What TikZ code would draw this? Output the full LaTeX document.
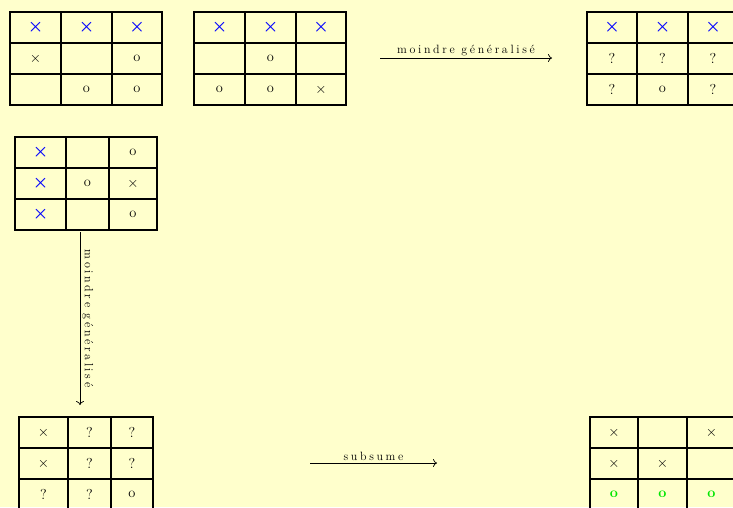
\documentclass[tikz,border=0pt]{standalone}
\usepackage{fontspec}
\usepackage{amsmath,amssymb,bm}
\usetikzlibrary{arrows.meta}

\newfontfamily\espace[LetterSpace=22]{Latin Modern Roman}
\definecolor{fond}{RGB}{255,255,204}
\definecolor{vert}{RGB}{0,230,0}
\newcommand\croixb{\textcolor{blue}{\LARGE$\bm{\times}$}}
\newcommand\croixn{$\times$}
\newcommand\rond{o}
\newcommand\rondv{\textcolor{vert}{\textbf{o}}}
\newcommand\quoi{?}

% grille 3x3 : x0..x3, y0..y3
\newcommand\grille[8]{%
  \draw[trait] (#1,#5) rectangle (#4,#8);
  \draw[trait] (#2,#5) -- (#2,#8) (#3,#5) -- (#3,#8)
               (#1,#6) -- (#4,#6) (#1,#7) -- (#4,#7);
}

\begin{document}
\begin{tikzpicture}[x=1pt,y=-1pt,
      trait/.style={line width=2.8pt},
      case/.style={font=\Large,inner sep=0pt},
      fl/.style={-{To[length=4pt,width=8pt]},line width=0.7pt},
      etiq/.style={font=\large\espace,inner sep=2pt},
    ]
      \fill[fond] (0,0) rectangle (733,507);
      \useasboundingbox (0,0) rectangle (733,507);
      \clip (0,0) rectangle (733,507);

      % ligne du haut
      \grille{10}{61}{112}{162}{12}{43}{74}{105}
      \foreach \x/\y/\t [count=\k] in {35.5/27.5/\croixb, 86.5/27.5/\croixb, 137/27.5/\croixb,
                                      35.5/58.5/\croixn, 137/58.5/\rond,
                                      86.5/89.5/\rond, 137/89.5/\rond}
        \node[case] (a\k) at (\x,\y) {\t};

      \grille{194}{245}{296}{346}{12}{43}{74}{105}
      \foreach \x/\y/\t [count=\k] in {219.5/27.5/\croixb, 270.5/27.5/\croixb, 321/27.5/\croixb,
                                      270.5/58.5/\rond,
                                      219.5/89.5/\rond, 270.5/89.5/\rond, 321/89.5/\croixn}
        \node[case] (b\k) at (\x,\y) {\t};

      \grille{587}{637}{688}{738}{12}{43}{74}{105}
      \foreach \x/\y/\t [count=\k] in {612/27.5/\croixb, 662.5/27.5/\croixb, 713/27.5/\croixb,
                                      612/58.5/\quoi, 662.5/58.5/\quoi, 713/58.5/\quoi,
                                      612/89.5/\quoi, 662.5/89.5/\rond, 713/89.5/\quoi}
        \node[case] (c\k) at (\x,\y) {\t};

      % grille de gauche
      \grille{15}{66}{109}{157}{137}{168}{199}{230}
      \foreach \x/\y/\t [count=\k] in {40.5/152.5/\croixb, 133/152.5/\rond,
                                      40.5/183.5/\croixb, 87.5/183.5/\rond, 133/183.5/\croixn,
                                      40.5/214.5/\croixb, 133/214.5/\rond}
        \node[case] (d\k) at (\x,\y) {\t};

      % ligne du bas
      \grille{19}{68}{111}{153}{417}{448}{479}{510}
      \foreach \x/\y/\t [count=\k] in {43.5/432.5/\croixn, 89.5/432.5/\quoi, 132/432.5/\quoi,
                                      43.5/463.5/\croixn, 89.5/463.5/\quoi, 132/463.5/\quoi,
                                      43.5/494.5/\quoi, 89.5/494.5/\quoi, 132/494.5/\rond}
        \node[case] (e\k) at (\x,\y) {\t};

      \grille{590}{638}{687}{736}{417}{448}{479}{510}
      \foreach \x/\y/\t [count=\k] in {614/432.5/\croixn, 711.5/432.5/\croixn,
                                      614/463.5/\croixn, 662.5/463.5/\croixn,
                                      614/494.5/\rondv, 662.5/494.5/\rondv, 711.5/494.5/\rondv}
        \node[case] (f\k) at (\x,\y) {\t};

      % fleches
      \coordinate (h1) at (380,58);
      \coordinate (h2) at (552,58);
      \coordinate (v1) at (80,232);
      \coordinate (v2) at (80,405);
      \coordinate (s1) at (310,463);
      \coordinate (s2) at (437,463);
      \draw[fl] (h1) -- node[etiq,above] (lh) {moindre généralisé} (h2);
      \draw[fl] (v1) -- node[etiq,rotate=-90,anchor=south] (lv) {moindre généralisé} (v2);
      \draw[fl] (s1) -- node[etiq,above] (ls) {subsume} (s2);
    \end{tikzpicture}
\end{document}
